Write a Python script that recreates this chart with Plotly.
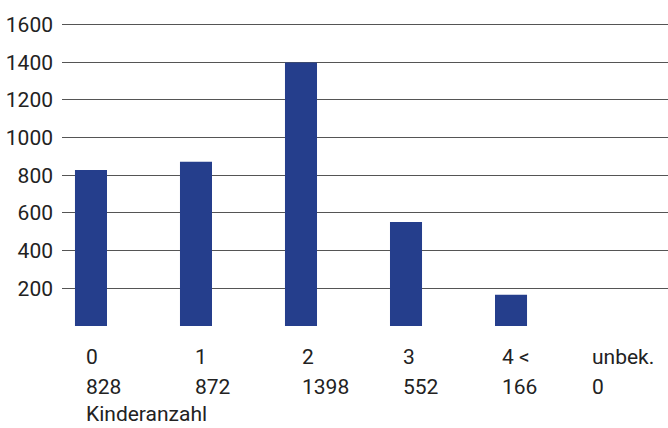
import plotly.graph_objects as go

# Anzahl nach Kinderanzahl
categories = ["0", "1", "2", "3", "4 <", "unbek."]
counts = [828, 872, 1398, 552, 166, 0]
y_ticks = [0, 200, 400, 600, 800, 1000, 1200, 1400, 1600]
y_ticktext = ["", "200", "400", "600", "800", "1000", "1200", "1400", "1600"]
axis_title = "Kinderanzahl"

FONT = "Roboto, Liberation Sans, sans-serif"
FSIZE = 21
TEXT = "#222222"
BAR = "#253e8c"
GRID = "#555555"

x_pos = list(range(len(categories)))

fig = go.Figure(
    go.Bar(
        x=x_pos,
        y=counts,
        width=0.305,
        marker=dict(color=BAR, line=dict(width=0)),
        hoverinfo="skip",
    )
)

# category / count table under the bars
label_shift = [-7, -3, -1, -5, -11, -26]
annotations = []
for i, (cat, n) in enumerate(zip(categories, counts)):
    for text, dy in ((cat, -31), (str(n), -61)):
        annotations.append(dict(
            x=i, xref="x", y=0, yref="paper", text=text, showarrow=False,
            xanchor="left", yanchor="middle", xshift=label_shift[i], yshift=dy,
            font=dict(family=FONT, size=FSIZE, color=TEXT),
        ))
annotations.append(dict(
    x=0, xref="x", y=0, yref="paper", text=axis_title, showarrow=False,
    xanchor="left", yanchor="middle", xshift=label_shift[0], yshift=-88,
    font=dict(family=FONT, size=FSIZE, color=TEXT),
))

fig.update_layout(
    width=668,
    height=428,
    margin=dict(l=62, r=0, t=17, b=102),
    paper_bgcolor="white",
    plot_bgcolor="white",
    showlegend=False,
    font=dict(family=FONT, size=FSIZE, color=TEXT),
    annotations=annotations,
    xaxis=dict(
        range=[-0.276, 5.495],
        showticklabels=False,
        showgrid=False,
        zeroline=False,
        showline=False,
        ticks="",
        fixedrange=True,
    ),
    yaxis=dict(
        range=[0, 1640],
        tickvals=y_ticks,
        ticktext=y_ticktext,
        showgrid=True,
        gridcolor=GRID,
        gridwidth=1.3,
        zeroline=False,
        showline=False,
        ticks="",
        ticklabelstandoff=8,
        tickfont=dict(family=FONT, size=FSIZE, color=TEXT),
        fixedrange=True,
    ),
)
fig.write_html("out.html")
